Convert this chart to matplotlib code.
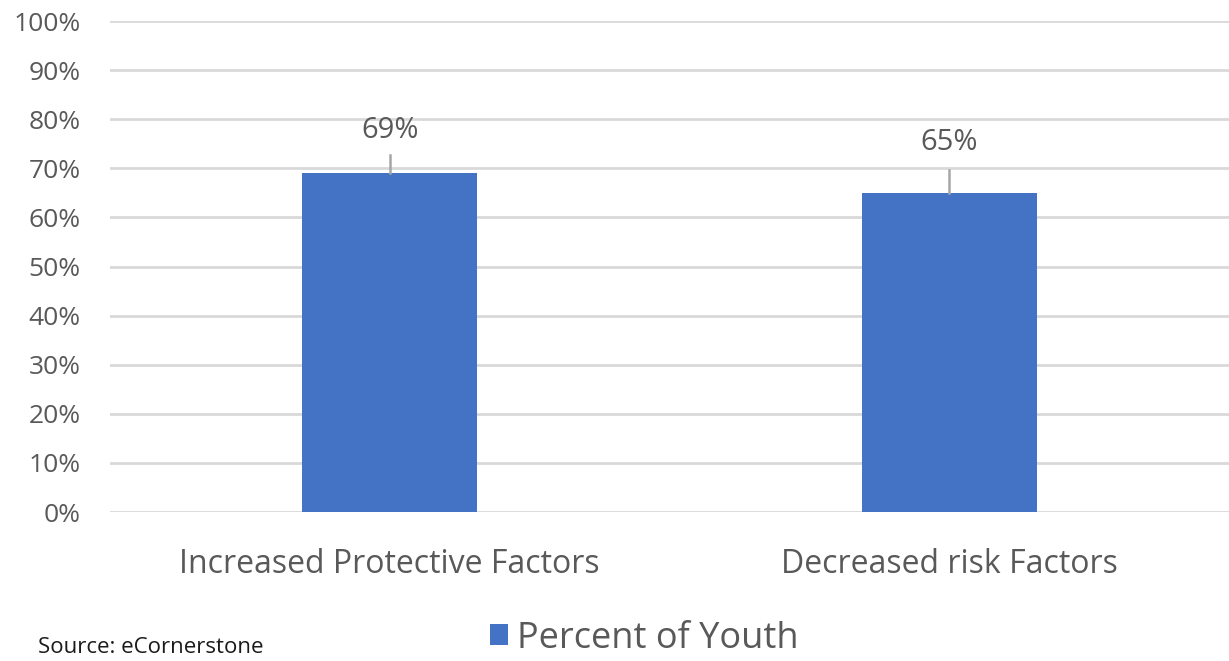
import matplotlib
matplotlib.use("Agg")
import matplotlib.pyplot as plt
from matplotlib.patches import Patch

categories = ["Increased Protective Factors", "Decreased risk Factors"]
values = [69, 65]
series_name = "Percent of Youth"
y_ticks = [0, 10, 20, 30, 40, 50, 60, 70, 80, 90, 100]
tick_labels = [f"{t}%" for t in y_ticks]

plt.rcParams["font.family"] = ["Open Sans", "DejaVu Sans"]
text_color = "#595959"
bar_color = "#4472C4"
grid_color = "#D9D9D9"

fig = plt.figure(figsize=(12.29, 6.61), dpi=100)
ax = fig.add_axes([0.0895, 0.2254, 0.9105, 0.7426])

x = list(range(len(categories)))
ax.bar(x, values, width=0.312, color=bar_color, zorder=3)

ax.set_xlim(-0.5, 1.5)
ax.set_ylim(0, 100)
ax.set_yticks(y_ticks)
ax.set_yticklabels(tick_labels, fontsize=19, color=text_color)
ax.set_xticks(x)
ax.set_xticklabels(categories, fontsize=23, color=text_color)
ax.tick_params(axis="both", length=0)
ax.tick_params(axis="y", pad=21)
ax.tick_params(axis="x", pad=26)
ax.yaxis.grid(True, color=grid_color, linewidth=2, zorder=0)
for s in ax.spines.values():
    s.set_visible(False)

# value labels with short leader lines
line_tops = [3.7, 4.7]
label_offsets = [8.8, 10.2]
for xi, v, lt, lo in zip(x, values, line_tops, label_offsets):
    ax.plot([xi, xi], [v, v + lt], color="#A6A6A6", linewidth=1.8, zorder=4)
    ax.text(xi, v + lo, f"{v}%", ha="center", va="center", fontsize=21, color=text_color)

handle = Patch(facecolor=bar_color, edgecolor="none")
fig.legend([handle], [series_name], loc="center", bbox_to_anchor=(0.524, 0.034),
           frameon=False, fontsize=26, handlelength=0.5, handleheight=0.5,
           handletextpad=0.25, labelcolor=text_color, borderpad=0, borderaxespad=0)

fig.text(0.031, 0.004, "Source: eCornerstone", fontsize=16, color="#1a1a1a",
         ha="left", va="bottom")

fig.savefig("out.png", dpi=100)
